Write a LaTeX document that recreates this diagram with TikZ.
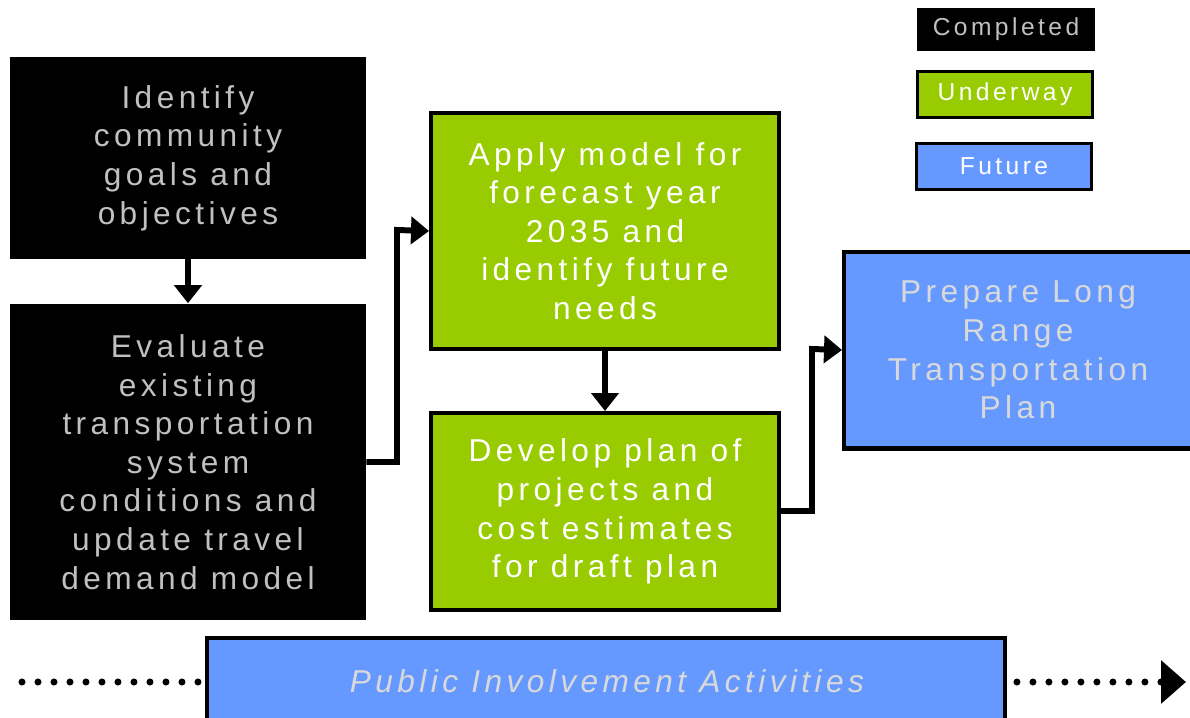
\documentclass[tikz,border=0pt]{standalone}
\usepackage{fontspec}
\setmainfont{Liberation Sans}[LetterSpace=14]
\usepackage{tikz}
\usetikzlibrary{arrows.meta}

\definecolor{donegray}{HTML}{C0C0C0}
\definecolor{workgreen}{HTML}{99CC00}
\definecolor{futureblue}{HTML}{6699FF}
\definecolor{paletext}{HTML}{D9D9D9}

\begin{document}
\begin{tikzpicture}[x=0.02cm, y=-0.02cm,
    box/.style={align=center, inner sep=0pt, font=\fontsize{18}{22}\selectfont},
    donebox/.style={box, fill=black, text=donegray},
    workbox/.style={box, fill=workgreen, draw=black, line width=2.3pt, text=white},
    futurebox/.style={box, fill=futureblue, draw=black, line width=2.3pt, text=paletext},
    legend/.style={align=center, inner sep=0pt, font=\fontsize{14}{16}\selectfont,
        minimum width=3.56cm},
    flow/.style={line width=3.4pt, -{Triangle[length=0.36cm, width=0.54cm]}}]

    % Page frame, anything past it is cut off
    \useasboundingbox (0,0) rectangle (1190,717);
    \clip (0,0) rectangle (1190,717);

    % Legend
    \node[legend, fill=black, text=donegray, minimum height=0.86cm] (done) at (1006,29.5) {Completed};
    \node[legend, fill=workgreen, draw=black, line width=1.8pt, text=white,
        minimum width=3.5cm, minimum height=0.92cm] (underway) at (1005,94.5) {Underway};
    \node[legend, fill=futureblue, draw=black, line width=1.8pt, text=white,
        minimum width=3.5cm, minimum height=0.92cm] (future) at (1004,166.5) {Future};

    % Completed steps
    \node[donebox, minimum width=7.12cm, minimum height=4.04cm] (goals) at (188,158)
        {Identify\\community\\goals and\\objectives};
    \node[donebox, minimum width=7.12cm, minimum height=6.34cm] (evaluate) at (188,462)
        {Evaluate\\existing\\transportation\\system\\conditions and\\update travel\\demand model};

    % Steps underway
    \node[workbox, minimum width=6.96cm, minimum height=4.72cm] (apply) at (605,231)
        {Apply model for\\forecast year\\2035 and\\identify future\\needs};
    \node[workbox, minimum width=6.96cm, minimum height=3.94cm] (develop) at (605,511.5)
        {Develop plan of\\projects and\\cost estimates\\for draft plan};

    % Future step
    \node[futurebox, minimum width=6.96cm, minimum height=3.94cm] (lrtp) at (1018,350)
        {Prepare Long\\Range\\Transportation\\Plan};

    % Connectors
    \draw[flow] (goals.south) -- (evaluate.north);
    \draw[flow] (evaluate.east |- 0,462) -| (397,230) -- (apply.west);
    \draw[flow] (apply.south) -- (develop.north);
    \draw[flow] (develop.east |- 0,511) -| (812,349) -- (lrtp.west);

    % Public involvement runs through the whole process
    \node[futurebox, minimum width=15.96cm, minimum height=1.68cm] (public) at (606,680) {};
    \node[text=paletext, font=\fontsize{18}{22}\selectfont\itshape] (publictext) at (607,681)
        {Public Involvement Activities};
    \draw[line width=4pt, line cap=round, dash pattern=on 0pt off 0.32cm]
        (22,682) -- (public.west |- 0,682);
    \coordinate (end) at (1186,682);
    \draw[line width=4pt, line cap=round, dash pattern=on 0pt off 0.32cm,
        -{Triangle[length=0.5cm, width=0.84cm]}]
        (public.east |- 0,682) ++(10,0) -- (end);
\end{tikzpicture}
\end{document}
